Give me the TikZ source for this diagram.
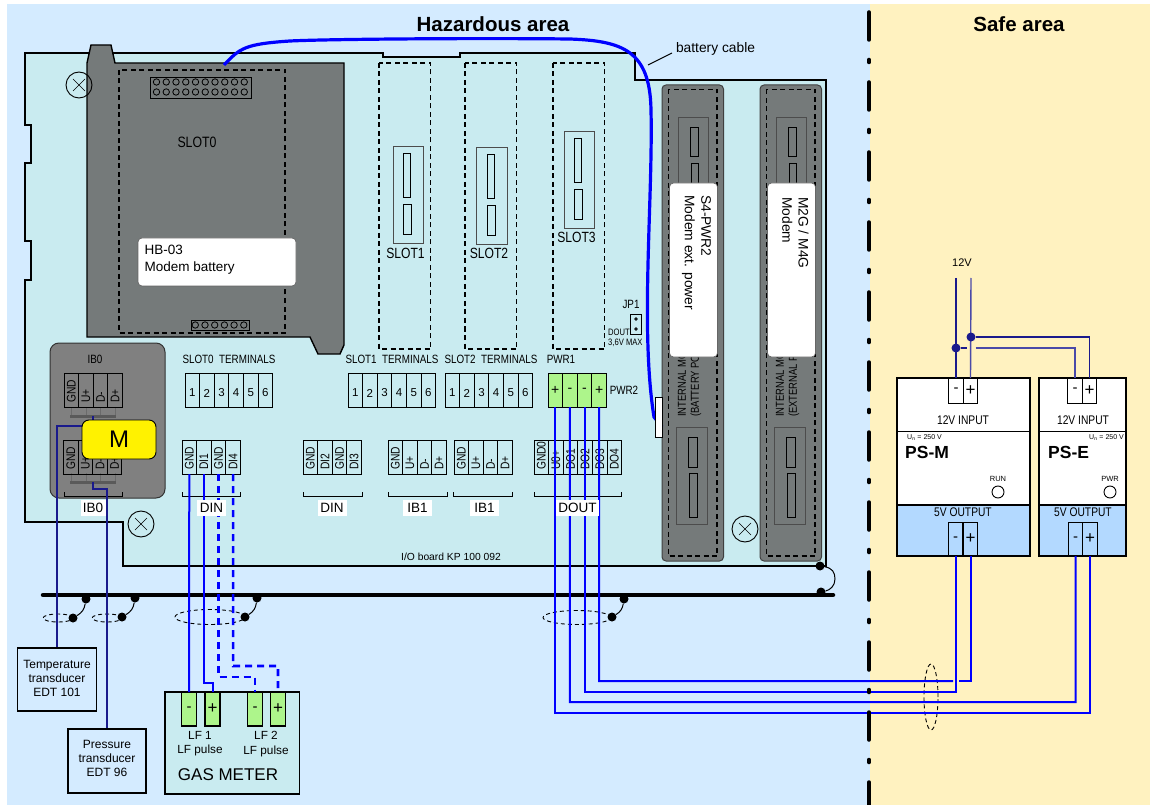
\documentclass[tikz,border=0pt]{standalone}
\usepackage{fontspec}
\usepackage{tikz}
\usetikzlibrary{shapes.geometric}
\setmainfont{Liberation Sans}
\newfontfamily\narrowfont[FakeStretch=0.82]{Liberation Sans}
\newcommand{\fs}[1]{\fontsize{#1}{#1}\selectfont}

\definecolor{hazardblue}{HTML}{D4EBFF}
\definecolor{safeyellow}{HTML}{FFF2C0}
\definecolor{boardcyan}{HTML}{C9EBF0}
\definecolor{modulegrey}{HTML}{757A7A}
\definecolor{ibgrey}{HTML}{808080}
\definecolor{wireblue}{HTML}{0000FF}
\definecolor{wirenavy}{HTML}{1A1A8C}
\definecolor{wirepale}{HTML}{4A4AA8}
\definecolor{pwrgreen}{HTML}{ADF58B}
\definecolor{psblue}{HTML}{B3D9FF}

\tikzset{
    cell/.style={draw, line width=0.9pt, minimum width=14.6pt, minimum height=34pt, inner sep=0pt, outer sep=0pt},
    celltext/.style={font=\narrowfont\fs{12.5}, rotate=90, anchor=west, inner sep=0pt},
    numtext/.style={font=\fs{11.5}, inner sep=0pt},
    narrowtext/.style={font=\narrowfont\fs{12}, inner sep=0pt},
    tag/.style={fill=white, font=\fs{13.5}, minimum height=16pt, inner sep=0pt},
    screwhead/.style={circle, draw, line width=0.9pt, minimum size=26pt, inner sep=0pt},
    gnd/.style={circle, fill=black, minimum size=9pt, inner sep=0pt},
    junction/.style={circle, fill=wirenavy, minimum size=9pt, inner sep=0pt},
    ring/.style={ellipse, draw, line width=0.9pt, dash pattern=on 4pt off 3pt, inner sep=0pt},
    wire/.style={wireblue, line width=2pt},
    dashwire/.style={wireblue, line width=2.6pt, dash pattern=on 7pt off 5pt},
    thinwire/.style={wirenavy, line width=1.3pt},
    slotdash/.style={line width=1.5pt, dash pattern=on 5pt off 3.5pt},
    modulebody/.style={fill=modulegrey, draw=black!75, line width=1pt, rounded corners=4pt},
    socket/.style={draw=black!70, line width=0.9pt},
    whitepanel/.style={fill=white, draw=black!60, line width=0.7pt, rounded corners=4pt},
    meterpin/.style={cell, fill=pwrgreen, line width=1.4pt, minimum width=15pt},
    psterm/.style={cell, line width=1pt, minimum width=14.5pt},
    xducer/.style={draw, line width=1.4pt, fill=hazardblue, inner sep=0pt, minimum width=79pt, minimum height=63pt},
    xducertext/.style={align=center, font=\fs{12}, inner sep=0pt},
    psbody/.style={draw, line width=1.8pt},
}

% row of labelled terminals: name, left x, top y, labels
\newcommand{\termrow}[4]{
    \foreach \txt [count=\i] in {#4} {
        \node (#1\i) at ({#2+(\i-0.5)*14.6}, #3+17) [cell] {};
        \node (#1\i txt) at ({#2+(\i-0.5)*14.6}, #3+30) [celltext] {\txt};
    }
}
% row of six numbered terminals: name, left x, top y
\newcommand{\numrow}[3]{
    \foreach \i in {1,...,6} {
        \node (#1\i) at ({#2+(\i-0.5)*14.6}, #3+17) [cell] {};
        \node (#1\i txt) at ({#2+(\i-0.5)*14.6}, #3+20) [numtext] {\i};
    }
}
\newcommand{\screw}[2]{
    \node (#1) at #2 [screwhead] {};
    \draw (#1.center) ++(-6,-6) -- ++(12,12);
    \draw (#1.center) ++(6,-6) -- ++(-12,12);
}
\newcommand{\bracket}[2]{\draw [line width=0.9pt] (#1,492) |- (#2,496) -- (#2,492);}

\begin{document}
\begin{tikzpicture}[x=1pt, y=-1pt]
    \useasboundingbox (0,0) rectangle (1152,805);
    % the two areas
    \fill [hazardblue] (7,4) rectangle (870,805);
    \fill [safeyellow] (870,4) rectangle (1150,805);
    \node (hazard) at (493,24) [font=\bfseries\fs{20.5}] {Hazardous area};
    \node (safe) at (1019,24) [font=\bfseries\fs{20.5}] {Safe area};

    % board outline
    \draw [fill=boardcyan, line width=1.4pt] (25,53) -- (383,53) -- (383,57) -- (460,57) -- (460,53) -- (635,53) -- (635,80) -- (826,80)
        -- (826,566) -- (123,566) -- (123,522) -- (25,522) -- (25,280) -- (31,280) -- (31,241) -- (25,241) -- (25,163) -- (31,163) -- (31,125) -- (25,125) -- cycle;
    \node (boardname) at (451,557) [font=\fs{10.3}, inner sep=0pt] {I/O board KP 100 092};

    % modem battery in slot 0
    \draw [fill=modulegrey, line width=1.4pt] (87,337) -- (87,63) -- (91,45) -- (111,45) -- (115,63) -- (344,63) -- (344,345) -- (340,354) -- (318,354) -- (310,337) -- cycle;
    \draw [slotdash] (119,70) rectangle (285,333);
    \draw [line width=0.9pt] (150,77) rectangle (251,98);
    \foreach \x in {0,...,9} {
        \draw [line width=0.8pt] ({156.5+\x*9.75},82) circle (3.2pt);
        \draw [line width=0.8pt] ({156.5+\x*9.75},92) circle (3.2pt);
    }
    \draw [line width=0.9pt] (191,320) rectangle (249,330);
    \foreach \x in {0,...,5} {
        \draw [line width=0.8pt] ({195.3+\x*9.7},325) circle (3.2pt);
    }
    \node (slotzero) at (197,142) [font=\narrowfont\fs{15}, inner sep=0pt] {SLOT0};
    \draw [whitepanel] (138,238) rectangle (296,286);
    \node (battery) at (144.5,259.5) [anchor=west, align=left, font=\fs{13.5}, inner sep=0pt] {HB-03\\[3.5pt]Modem battery};
    \screw{screwa}{(79,85)}
    \screw{screwb}{(141,524)}
    \screw{screwc}{(745,529)}

    % empty slots
    \foreach \x/\nm/\yo/\oa/\ob/\ly in {379/1/146/393/403/253, 465/2/147/476.5/487/253, 553/3/131/564/574/237} {
        \draw [slotdash] (\x,63) rectangle ({\x+51.5},349);
        \draw [socket] (\oa,\yo) rectangle ({\oa+30.5},{\yo+97});
        \draw [line width=0.9pt] (\ob,{\yo+7}) rectangle ({\ob+7},{\yo+51});
        \draw [line width=0.9pt] (\ob,{\yo+58}) rectangle ({\ob+8},{\yo+88});
        \node (slot\nm) at ({\oa+12.5},\ly) [font=\narrowfont\fs{14.8}, inner sep=0pt] {SLOT\nm};
    }

    % modem modules
    \foreach \x/\tm/\tb in {662/{(BATTERY POWER)}/a, 760/{(EXTERNAL POWER)}/b} {
        \draw [modulebody] (\x,85) rectangle ({\x+61.5},561);
        \draw [slotdash] ({\x+6.5},89.5) rectangle ({\x+55},556);
        \draw [socket] ({\x+16},117) rectangle ({\x+46},200);
        \draw [line width=0.9pt] ({\x+28},127) rectangle ({\x+36},156);
        \draw [line width=0.9pt] ({\x+29},163) rectangle ({\x+36},200);
        \draw [socket] ({\x+14.5},427.5) rectangle ({\x+45.5},524.5);
        \draw [line width=0.9pt] ({\x+26.5},437) rectangle ({\x+35},467);
        \draw [line width=0.9pt] ({\x+27.5},473.5) rectangle ({\x+35},517);
        \node (inner\tb) at ({\x+27.5},417) [rotate=90, anchor=west, align=left, font=\narrowfont\fs{11.5}, inner sep=0pt] {INTERNAL MODEM\\[1.5pt]\tm};
        \draw [whitepanel] ({\x+7.5},183) rectangle ({\x+55.5},357);
    }
    \node (pwrmodem) at (696.5,195) [rotate=-90, anchor=west, align=left, font=\fs{13.8}, inner sep=0pt] {S4-PWR2\\[2.5pt]Modem ext. power};
    \node (modem) at (795.5,197) [rotate=-90, anchor=west, align=left, font=\fs{13.8}, inner sep=0pt] {M2G / M4G\\[2.5pt]Modem};

    % battery cable
    \coordinate (cablestart) at (224,65);
    \coordinate (cableend) at (662,427);
    \draw [wireblue, line width=3.2pt] (cablestart) .. controls (240,48) and (245,44) .. (290,41) .. controls (330,39) and (480,38) .. (570,39)
        .. controls (622,41) and (650,50) .. (651,110) .. controls (653,200) and (640,330) .. (654,417) -- (cableend);
    \node (cabletab) at (658.5,417) [draw, fill=white, line width=0.8pt, minimum width=7pt, minimum height=40pt, inner sep=0pt] {};
    \node (cablename) at (715.5,49) [font=\fs{13.8}, inner sep=0pt] {battery cable};
    \coordinate (leadtip) at (648,65);
    \coordinate (leadend) at (672,53);
    \draw [line width=0.9pt] (leadtip) -- (leadend);

    % jumper
    \node (jpname) at (631,304) [font=\narrowfont\fs{12}, inner sep=0pt] {JP1};
    \node (jumper) at (636,324) [draw, line width=0.8pt, minimum width=11pt, minimum height=20pt, inner sep=0pt] {};
    \draw [line width=0.8pt] (636,319) circle (1.3pt) (636,329) circle (1.3pt);
    \node (jpnote) at (608,338) [anchor=west, align=left, font=\narrowfont\fs{9.3}, inner sep=0pt] {DOUT\\[1pt]3,6V MAX};

    % IB0 module
    \draw [fill=ibgrey, draw=black!80, line width=1pt, rounded corners=9pt] (50,343) rectangle (165,498);
    \node (ibname) at (95,359) [narrowtext] {IB0};
    \foreach \y in {416,482} {
        \draw [black!45!ibgrey!80, line width=1pt] (71,{\y-9}) -- (71,\y) (86,{\y-9}) -- (86,\y) (100,{\y-9}) -- (100,\y) (115,{\y-9}) -- (115,\y);
        \draw [black!30!ibgrey, line width=3pt] (70,\y) -- (116,\y);
    }

    % terminals
    \termrow{iba}{64}{373}{GND,U+,D-,D+}
    \termrow{ibb}{63.5}{440}{GND,U+,D-,D+}
    \numrow{sza}{185}{373}
    \numrow{sla}{348}{373}
    \numrow{slb}{445}{373}
    \node (szname) at (229,359) [narrowtext] {SLOT0\ \ TERMINALS};
    \node (slaname) at (392,359) [narrowtext] {SLOT1\ \ TERMINALS};
    \node (slbname) at (491,359) [narrowtext] {SLOT2\ \ TERMINALS};
    \node (pwrone) at (561,359) [narrowtext] {PWR1};
    \node (pwrtwo) at (624,390) [narrowtext] {PWR2};
    \foreach \s [count=\i] in {+,-,-,+} {
        \node (pwr\i) at ({548+(\i-0.5)*14.6}, 390) [cell, fill=pwrgreen, font=\fs{14}] {\s};
    }
    \termrow{din}{182}{440}{GND,DI1,GND,DI4}
    \termrow{dinb}{303}{440}{GND,DI2,GND,DI3}
    \termrow{iob}{388}{440}{GND,U+,D-,D+}
    \termrow{ioc}{454}{440}{GND,U+,D-,D+}
    \termrow{dout}{534}{440}{GND0,U0+,DO1,DO2,DO3,DO4}

    % brackets
    \bracket{64}{122}
    \bracket{182}{240}
    \bracket{303}{362}
    \bracket{388}{447}
    \bracket{453}{512}
    \bracket{534}{621}

    % earth bus
    \coordinate (busleft) at (43,595);
    \coordinate (busright) at (833,595);
    \draw [line width=4.5pt, line cap=round] (busleft) -- (busright);
    \node (earthaa) at (86,599) [gnd] {};
    \node (earthab) at (73,618) [gnd] {};
    \node (earthba) at (135,598) [gnd] {};
    \node (earthbb) at (122,617) [gnd] {};
    \node (earthca) at (257,598) [gnd] {};
    \node (earthcb) at (245,617) [gnd] {};
    \node (earthda) at (624,599) [gnd] {};
    \node (earthdb) at (612,617) [gnd] {};
    \node (earthea) at (820,566) [gnd] {};
    \node (eartheb) at (821,592) [gnd] {};
    \draw [line width=1pt] (earthaa) to [bend left=25] (earthab);
    \draw [line width=1pt] (earthba) to [bend left=25] (earthbb);
    \draw [line width=1pt] (earthca) to [bend left=25] (earthcb);
    \draw [line width=1pt] (earthda) to [bend left=25] (earthdb);
    \draw [line width=1pt] (earthea) .. controls (832,568) and (835,572) .. (835,579) .. controls (835,586) and (830,590) .. (eartheb);
    \node (ringa) at (58,618) [ring, minimum width=30pt, minimum height=8pt] {};
    \node (ringb) at (107,618) [ring, minimum width=30pt, minimum height=8pt] {};
    \node (ringc) at (210,617) [ring, minimum width=70pt, minimum height=15pt] {};
    \node (ringd) at (577,617.5) [ring, minimum width=68pt, minimum height=14pt] {};
    \node (ringe) at (931,697) [ring, minimum width=14pt, minimum height=66pt] {};

    % transducers and gas meter
    \node (tempxd) at (57,679.5) [xducer] {};
    \node (temptxt) at (57,678) [xducertext] {Temperature\\[2pt]transducer\\[2pt]EDT 101};
    \node (pressxd) at (107,761) [xducer, minimum width=78pt, minimum height=64pt] {};
    \node (presstxt) at (107,758) [xducertext] {Pressure\\[2pt]transducer\\[2pt]EDT 96};
    \draw [fill=boardcyan, line width=1.4pt] (165,692) rectangle (299.5,794);
    \node (lfa) at (189,709) [meterpin, font=\fs{15}] {-};
    \node (lfb) at (212.5,709) [meterpin, font=\fs{17}] {+};
    \node (lfc) at (255,709) [meterpin, font=\fs{15}] {-};
    \node (lfd) at (278,709) [meterpin, font=\fs{17}] {+};
    \node (lfatxt) at (200,744) [align=center, font=\fs{11.8}, inner sep=0pt] {LF 1\\[2.5pt]LF pulse};
    \node (lfctxt) at (266,744) [align=center, font=\fs{11.8}, inner sep=0pt] {LF 2\\[2.5pt]LF pulse};
    \node (meter) at (228,775) [font=\fs{17}, inner sep=0pt] {GAS METER};

    % power supplies
    \draw [psbody, fill=white] (897,378) rectangle (1030,556);
    \draw [psbody, fill=psblue] (897,505) rectangle (1030,556);
    \draw [line width=1pt] (897,431) -- (1030,431);
    \draw [psbody, fill=white] (1039,378) rectangle (1126,556);
    \draw [psbody, fill=psblue] (1039,505) rectangle (1126,556);
    \draw [line width=1pt] (1039,431) -- (1126,431);
    \node (psmina) at (956,390.5) [psterm, minimum height=25pt, font=\fs{15}] {-};
    \node (psminb) at (970.5,390.5) [psterm, minimum height=25pt, font=\fs{17}] {+};
    \node (pseina) at (1075,390.5) [psterm, minimum height=25pt, font=\fs{15}] {-};
    \node (pseinb) at (1089.5,390.5) [psterm, minimum height=25pt, font=\fs{17}] {+};
    \node (psmouta) at (955.5,539) [psterm, font=\fs{15}] {-};
    \node (psmoutb) at (970.5,539) [psterm, font=\fs{17}] {+};
    \node (pseouta) at (1075.5,539) [psterm, font=\fs{15}] {-};
    \node (pseoutb) at (1090,539) [psterm, font=\fs{17}] {+};
    \node (psmin) at (963,420) [narrowtext, font=\narrowfont\fs{12.5}] {12V INPUT};
    \node (psein) at (1083,420) [narrowtext, font=\narrowfont\fs{12.5}] {12V INPUT};
    \node (psmout) at (963,512) [narrowtext, font=\narrowfont\fs{12.5}] {5V OUTPUT};
    \node (pseout) at (1083,512) [narrowtext, font=\narrowfont\fs{12.5}] {5V OUTPUT};
    \node (psmrate) at (907,438) [anchor=west, font=\fs{7}, inner sep=0pt] {U\textsubscript{n} = 250 V};
    \node (pserate) at (1089,438) [anchor=west, font=\fs{7}, inner sep=0pt] {U\textsubscript{n} = 250 V};
    \node (psmname) at (905,452) [anchor=west, font=\bfseries\fs{17.5}, inner sep=0pt] {PS-M};
    \node (psename) at (1048,452) [anchor=west, font=\bfseries\fs{17.5}, inner sep=0pt] {PS-E};
    \node (runtxt) at (998,479) [font=\fs{7.5}, inner sep=0pt] {RUN};
    \node (pwrtxt) at (1110,479) [font=\fs{7.5}, inner sep=0pt] {PWR};
    \node (runled) at (998,492) [circle, draw, line width=0.9pt, minimum size=12pt, inner sep=0pt] {};
    \node (pwrled) at (1110,492) [circle, draw, line width=0.9pt, minimum size=12pt, inner sep=0pt] {};

    % 12V supply
    \node (supply) at (962,263) [font=\fs{11}, inner sep=0pt] {12V};
    \coordinate (supplyneg) at (956,278);
    \coordinate (supplypos) at (971,278);
    \draw [wirenavy, line width=1.4pt] (supplyneg) -- (psmina.north);
    \draw [wirepale, line width=1.4pt] (supplypos) -- (psminb.north);
    \node (jointneg) at (956,348) [junction] {};
    \node (jointpos) at (971,337) [junction] {};
    \coordinate (gapa) at (966.5,348);
    \coordinate (gapb) at (975.5,348);
    \draw [wirenavy, line width=1.4pt] (jointneg) -- (gapa);
    \draw [wirepale, line width=1.4pt] (gapb) -| (pseina.north);
    \draw [wirenavy, line width=1.8pt] (jointpos) -| (pseinb.north);

    % wires from the transducers
    \coordinate (ibaout) at (93,416);
    \coordinate (ibbout) at (93,482);
    \coordinate (ibaturn) at (57,426);
    \coordinate (ibbturn) at (107,489);
    \draw [thinwire] (ibaout) |- (ibaturn) -- (tempxd.north);
    \draw [thinwire] (ibbout) |- (ibbturn) -- (pressxd.north);

    % wires to the gas meter
    \coordinate (turnb) at (212.5,683);
    \coordinate (turnc) at (218.5,677);
    \coordinate (turnd) at (233.1,666);
    \draw [wire] (din1.south) -- (lfa.north);
    \draw [wire] (din2.south) |- (turnb) -- (lfb.north);
    \draw [dashwire] (din3.south) -- (turnc) -| (lfc.north);
    \draw [dashwire] (din4.south) -- (turnd) -| (lfd.north);

    % wires to the power supplies
    \coordinate (turna) at (555.3,713);
    \coordinate (turne) at (569.9,702);
    \coordinate (turnf) at (584.5,692);
    \coordinate (turng) at (599.1,681);
    \coordinate (gapc) at (953,681);
    \coordinate (gapd) at (959,681);
    \draw [wire] (pwr1.south) -- (turna) -| (pseoutb.south);
    \draw [wire] (pwr2.south) -- (turne) -| (pseouta.south);
    \draw [wire] (pwr3.south) -- (turnf) -| (psmouta.south);
    \draw [wire] (pwr4.south) -- (turng) -- (gapc);
    \draw [wire] (gapd) -| (psmoutb.south);

    % labels over the wires
    \node (ibtag) at (93,508) [tag, minimum width=25pt] {IB0};
    \node (dintag) at (211.5,508) [tag, minimum width=29pt] {DIN};
    \node (dinbtag) at (332,508) [tag, minimum width=29pt] {DIN};
    \node (iobtag) at (417.5,508) [tag, minimum width=29pt] {IB1};
    \node (ioctag) at (484.5,508) [tag, minimum width=29pt] {IB1};
    \node (douttag) at (577.5,508) [tag, minimum width=43pt] {DOUT};
    \node (mark) at (119,439.5) [draw, fill=yellow, line width=0.9pt, rounded corners=7pt, minimum width=74pt, minimum height=39pt, font=\fs{24}, inner sep=0pt] {M};

    % border between the areas
    \draw [line width=3.5pt, line cap=round, dash pattern=on 28pt off 19.5pt on 3pt off 19.5pt] (869,12) -- (869,805);
\end{tikzpicture}
\end{document}
